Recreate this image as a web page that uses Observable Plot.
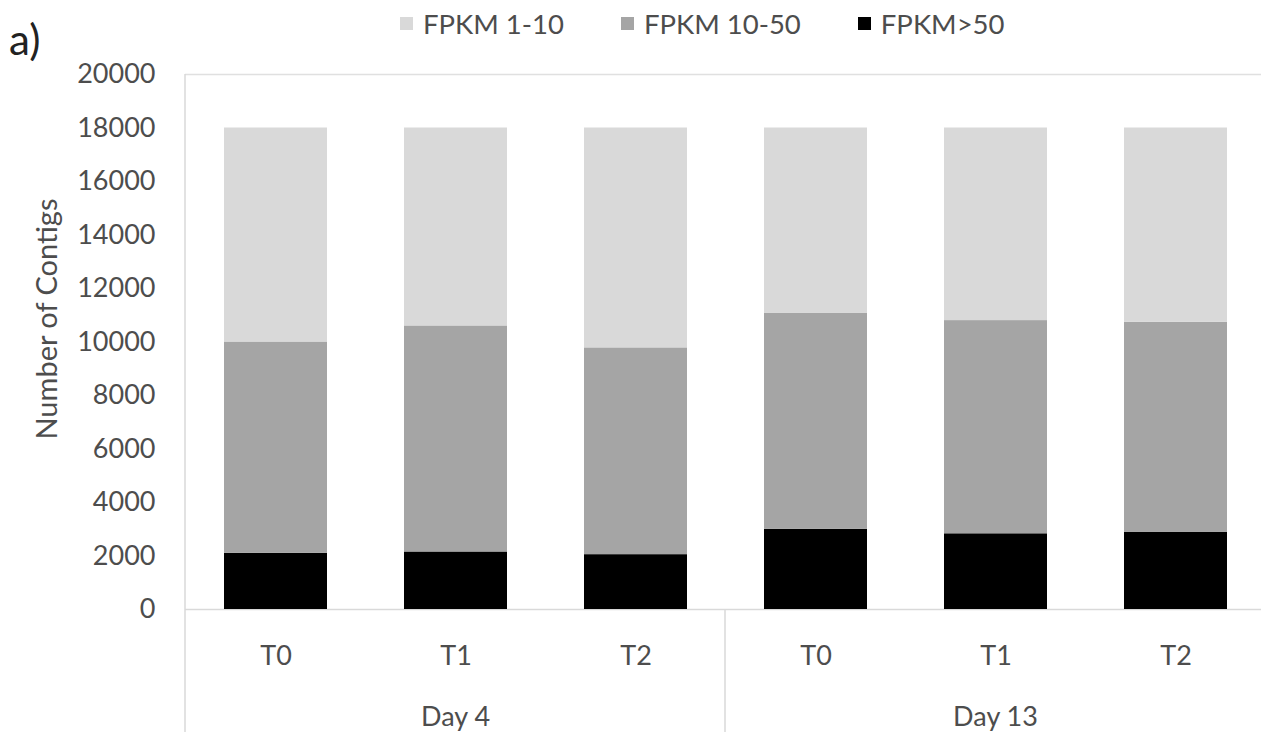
<!DOCTYPE html>
<html>
<head>
<meta charset="utf-8">
<script src="https://cdn.jsdelivr.net/npm/d3@7"></script>
<script src="https://cdn.jsdelivr.net/npm/@observablehq/plot@0.6"></script>
<style>
  body { margin: 0; background: #fff; font-family: Lato, sans-serif; }
  #wrap { position: relative; width: 1261px; height: 732px; overflow: hidden; }
  #legend { position: absolute; left: 400px; top: 0; height: 60px; display: flex; align-items: center; }
  .lg-swatch { margin-right: 57px !important; }
  .lg-swatch > svg { margin-right: 10px !important; }
  #panel { position: absolute; left: 9px; top: 14px; font-size: 42px; color: #222; }
  #ytitle { position: absolute; left: 45px; top: 319px; transform: translate(-50%, -50%) rotate(-90deg);
            white-space: nowrap; font-size: 29px; color: #4d4d4d; }
</style>
</head>
<body>
<div id="wrap">
  <div id="chart"></div>
  <div id="legend"></div>
  <div id="panel">a)</div>
  <div id="ytitle">Number of Contigs</div>
</div>
<script>
// Sampling days and time points, one bar per pair
const days  = ["Day 4", "Day 4", "Day 4", "Day 13", "Day 13", "Day 13"];
const times = ["T0", "T1", "T2", "T0", "T1", "T2"];
const dayOrder  = ["Day 4", "Day 13"];
const timeOrder = ["T0", "T1", "T2"];

// Number of contigs in each expression class
const fpkmAbove50 = [2100, 2150, 2050, 3000, 2830, 2890];
const fpkm10to50  = [7900, 8450, 7730, 8080, 7970, 7850];
const fpkm1to10   = [8000, 7400, 8220, 6920, 7200, 7260];

// Series names (stack order bottom to top) and legend order
const stackSeries  = ["FPKM>50", "FPKM 10-50", "FPKM 1-10"];
const legendSeries = ["FPKM 1-10", "FPKM 10-50", "FPKM>50"];
const legendColors = ["#d9d9d9", "#a5a5a5", "#000000"];

const yTicks = [0, 2000, 4000, 6000, 8000, 10000, 12000, 14000, 16000, 18000, 20000];

const seriesValues = {"FPKM>50": fpkmAbove50, "FPKM 10-50": fpkm10to50, "FPKM 1-10": fpkm1to10};
const rows = [];
days.forEach((day, i) => {
  stackSeries.forEach(s => rows.push({day, time: times[i], series: s, value: seriesValues[s][i]}));
});

const W = 1261, H = 732;
const textColor = "#4d4d4d";

const chart = Plot.plot({
  width: W,
  height: H,
  marginTop: 74,
  marginBottom: 123,
  marginLeft: 185,
  marginRight: -4,
  style: {fontFamily: "Lato, sans-serif", fontSize: "27px", color: textColor, background: "#fff"},
  fx: {domain: dayOrder, padding: 0},
  x: {domain: timeOrder, paddingInner: 0.428, paddingOuter: 0.214},
  y: {domain: [0, 20000]},
  color: {domain: legendSeries, range: legendColors},
  marks: [
    Plot.ruleY([20000], {stroke: "#e0e0e0", strokeWidth: 1.5}),
    Plot.ruleY([0], {stroke: "#d9d9d9", strokeWidth: 1.5}),
    Plot.barY(rows, Plot.stackY({order: stackSeries}, {fx: "day", x: "time", y: "value", fill: "series"})),
    Plot.axisY({ticks: yTicks, tickSize: 0, tickPadding: 30, tickFormat: d3.format("d"), label: null, fontSize: 27}),
    Plot.axisX({tickSize: 0, tickPadding: 36, label: null, fontSize: 27}),
    Plot.axisFx({anchor: "bottom", tickSize: 0, tickPadding: 97, label: null, fontSize: 27})
  ]
});

// Frame: left edge and group separators running down through the category axis
const fx = chart.scale("fx"), y = chart.scale("y");
const g = d3.select(chart).append("g").attr("stroke", "#d9d9d9").attr("stroke-width", 1.5);
dayOrder.forEach((d, i) => {
  const x0 = fx.apply(d);
  g.append("line")
    .attr("x1", x0).attr("x2", x0)
    .attr("y1", i === 0 ? y.apply(20000) : y.apply(0))
    .attr("y2", H);
});
document.getElementById("chart").append(chart);

const legend = Plot.legend({
  legend: "swatches",
  color: {domain: legendSeries, range: legendColors},
  swatchSize: 13,
  className: "lg",
  style: {fontFamily: "Lato, sans-serif", fontSize: "27.5px", color: textColor}
});
document.getElementById("legend").append(legend);
</script>
</body>
</html>
